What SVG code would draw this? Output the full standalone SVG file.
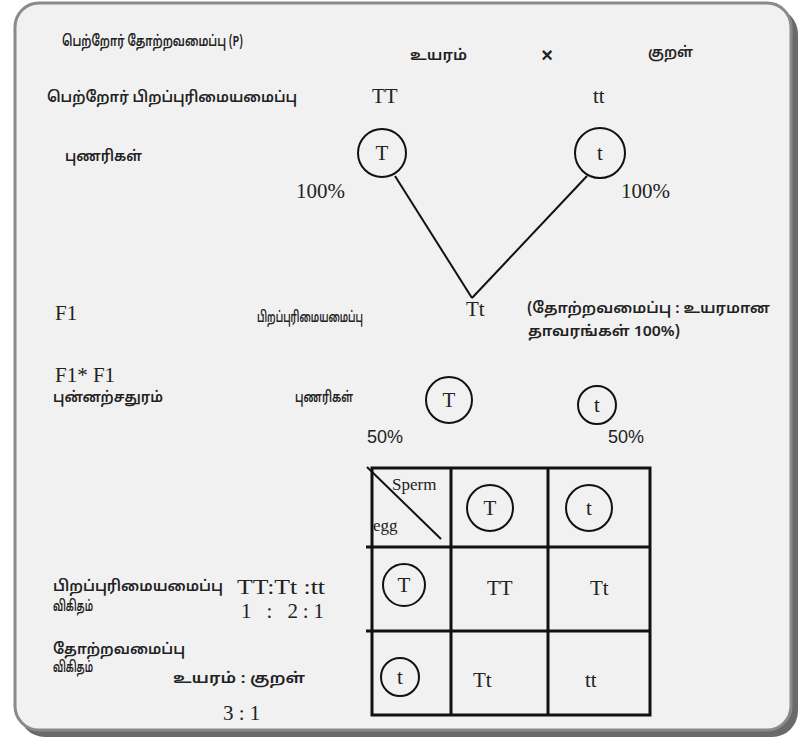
<svg xmlns="http://www.w3.org/2000/svg" width="805" height="739" viewBox="0 0 805 739">
<style>
.ta{font-family:"Noto Sans Tamil","Lohit Tamil","Noto Sans",sans-serif;font-size:15px;font-weight:600;fill:#222}
.se{font-family:"Liberation Serif",serif;font-size:21px;fill:#222}
.sa{font-family:"Liberation Sans",sans-serif;font-size:18px;fill:#222}
.c{fill:none;stroke:#111;stroke-width:2}
.ln{stroke:#111;stroke-width:2;fill:none}
.g{stroke:#111;stroke-width:3;fill:none}
</style>
<rect x="0" y="0" width="805" height="739" fill="#ffffff"/>
<rect x="19" y="8" width="779" height="729" rx="26" fill="#6a6a6a"/>
<rect x="15" y="3" width="776" height="727" rx="24" fill="#f1f1f1" stroke="#8a8a8a" stroke-width="3"/>

<g id="labels">
<text class="ta" x="62" y="46" textLength="181" lengthAdjust="spacingAndGlyphs">பெற்றோர் தோற்றவமைப்பு (P)</text>
<text class="ta" x="47" y="102" textLength="250" lengthAdjust="spacingAndGlyphs">பெற்றோர் பிறப்புரிமையமைப்பு</text>
<text class="ta" x="65" y="161" textLength="77" lengthAdjust="spacingAndGlyphs">புணரிகள்</text>
<text class="se" x="55" y="320">F1</text>
<text class="se" x="55" y="382">F1* F1</text>
<text class="ta" x="53" y="402" textLength="110" lengthAdjust="spacingAndGlyphs">புன்னற்சதுரம்</text>
<text class="ta" x="53" y="591" textLength="170" lengthAdjust="spacingAndGlyphs">பிறப்புரிமையமைப்பு</text>
<text class="ta" x="53" y="611" textLength="40" lengthAdjust="spacingAndGlyphs">விகிதம்</text>
<text class="ta" x="53" y="654" textLength="132" lengthAdjust="spacingAndGlyphs">தோற்றவமைப்பு</text>
<text class="ta" x="53" y="672" textLength="40" lengthAdjust="spacingAndGlyphs">விகிதம்</text>
</g>

<g id="parents">
<text class="ta" x="410" y="60" textLength="57" lengthAdjust="spacingAndGlyphs">உயரம்</text>
<text x="547" y="62" text-anchor="middle" font-family="Liberation Sans, sans-serif" font-size="20" font-weight="bold" fill="#222">×</text>
<text class="ta" x="648" y="57" textLength="45" lengthAdjust="spacingAndGlyphs">குறள்</text>
<text class="se" x="372" y="103">TT</text>
<text class="se" x="593" y="103">tt</text>
</g>

<g id="gamete-T">
<circle class="c" cx="382" cy="153" r="24"/>
<text class="se" x="382" y="160" text-anchor="middle">T</text>
<text class="se" x="296" y="198" font-size="23">100%</text>
</g>
<g id="gamete-t">
<circle class="c" cx="600" cy="153" r="25"/>
<text class="se" x="600" y="160" text-anchor="middle">t</text>
<text class="se" x="621" y="198" font-size="23">100%</text>
</g>

<g id="connectors">
<line class="ln" x1="395" y1="176" x2="472" y2="298"/>
<line class="ln" x1="587" y1="176" x2="472" y2="298"/>
</g>

<g id="f1">
<text class="ta" x="257" y="322" textLength="106" lengthAdjust="spacingAndGlyphs">பிறப்புரிமையமைப்பு</text>
<text class="se" x="466" y="316">Tt</text>
<text class="ta" x="527" y="313" textLength="243" lengthAdjust="spacingAndGlyphs">(தோற்றவமைப்பு : உயரமான</text>
<text class="ta" x="528" y="336" textLength="152" lengthAdjust="spacingAndGlyphs">தாவரங்கள் 100%)</text>
</g>

<g id="f1-gametes">
<text class="ta" x="295" y="402" textLength="58" lengthAdjust="spacingAndGlyphs">புணரிகள்</text>
<circle class="c" cx="449" cy="400" r="23"/>
<text class="se" x="449" y="407" text-anchor="middle">T</text>
<circle class="c" cx="597" cy="405" r="19"/>
<text class="se" x="597" y="412" text-anchor="middle">t</text>
<text class="sa" x="367" y="443">50%</text>
<text class="sa" x="608" y="443">50%</text>
</g>

<g id="punnett">
<rect class="g" x="372" y="468" width="278" height="247"/>
<line class="g" x1="451" y1="468" x2="451" y2="715"/>
<line class="g" x1="548" y1="468" x2="548" y2="715"/>
<line class="g" x1="366" y1="547" x2="650" y2="547"/>
<line class="g" x1="366" y1="631" x2="650" y2="631"/>
<line class="ln" x1="367" y1="467" x2="441" y2="539"/>
<text x="392" y="490" font-family="Liberation Serif, serif" font-size="17" fill="#222">Sperm</text>
<text x="373" y="531" font-family="Liberation Serif, serif" font-size="17" fill="#222">egg</text>
<circle class="c" cx="490" cy="508" r="23"/>
<text class="se" x="490" y="515" text-anchor="middle">T</text>
<circle class="c" cx="589" cy="508" r="23"/>
<text class="se" x="589" y="515" text-anchor="middle">t</text>
<circle class="c" cx="404" cy="585" r="21"/>
<text class="se" x="404" y="592" text-anchor="middle">T</text>
<text class="se" x="487" y="595">TT</text>
<text class="se" x="590" y="595">Tt</text>
<circle class="c" cx="400" cy="677" r="19"/>
<text class="se" x="400" y="684" text-anchor="middle">t</text>
<text class="se" x="473" y="687">Tt</text>
<text class="se" x="585" y="687">tt</text>
</g>

<g id="ratios">
<text class="se" x="237" y="594" font-size="18" textLength="88" lengthAdjust="spacingAndGlyphs">TT:Tt :tt</text>
<text class="se" x="241" y="618" font-size="19" textLength="83" lengthAdjust="spacing">1 : 2:1</text>
<text class="ta" x="173" y="683" textLength="132" lengthAdjust="spacingAndGlyphs">உயரம் : குறள்</text>
<text class="se" x="223" y="720">3 : 1</text>
</g>
</svg>
